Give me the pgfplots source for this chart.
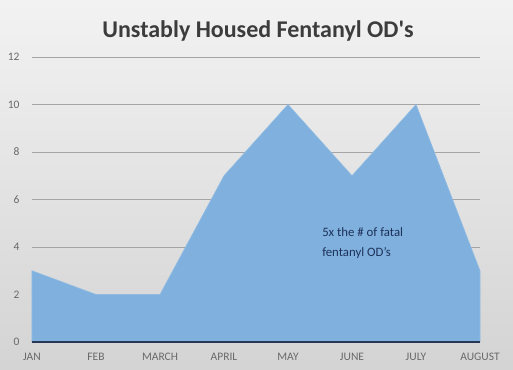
\documentclass[border=0pt]{standalone}
\usepackage{fontspec}
\setmainfont{Carlito}
\newfontfamily\plaincarlito{Carlito}
\usepackage{pgfplots}
\pgfplotsset{compat=1.18}
\definecolor{areablue}{RGB}{127,176,222}
\definecolor{basenavy}{RGB}{40,55,85}
\definecolor{tickgray}{RGB}{105,105,105}
\definecolor{titlegray}{RGB}{60,60,60}
\definecolor{gridgray}{RGB}{165,165,165}
\definecolor{annot}{RGB}{30,50,90}
\begin{document}
\begin{tikzpicture}[x=1pt,y=1pt]
\shade[top color=black!5, bottom color=black!17] (0,0) rectangle (513,369);
\begin{axis}[
  at={(32pt,27pt)}, anchor=south west,
  scale only axis, width=448pt, height=285pt,
  xmin=0, xmax=7, ymin=0, ymax=12,
  xtick={0,...,7},
  xticklabels={JAN,FEB,MARCH,APRIL,MAY,JUNE,JULY,AUGUST},
  ytick={0,2,...,12},
  ymajorgrids, grid style={gridgray, line width=0.9pt},
  axis line style={draw=none},
  major tick length=0pt,
  tick label style={font=\fontsize{11.5}{13}\selectfont, text=tickgray},
  /pgf/number format/assume math mode=true,
  xticklabel style={text height=8pt, text depth=0pt, anchor=north, yshift=-7pt},
  yticklabel style={anchor=east, xshift=-9pt},
  clip=false,
]
\addplot[fill=areablue, draw=areablue!85!white, line width=0.6pt] coordinates {
  (0,3) (1,2) (2,2) (3,7) (4,10) (5,7) (6,10) (7,3)
} \closedcycle;
\addplot[basenavy, line width=2pt] coordinates {(0,0) (7,0)};
\node[anchor=west, align=left, text=annot, font=\fontsize{12.8}{20}\selectfont] at (axis cs:4.48,4.17) {5x the \# of fatal\\fentanyl OD's};
\end{axis}
\node[font=\plaincarlito\bfseries\fontsize{24}{28}\selectfont, text=titlegray] at (258,338) {Unstably Housed Fentanyl OD's};
\end{tikzpicture}
\end{document}
